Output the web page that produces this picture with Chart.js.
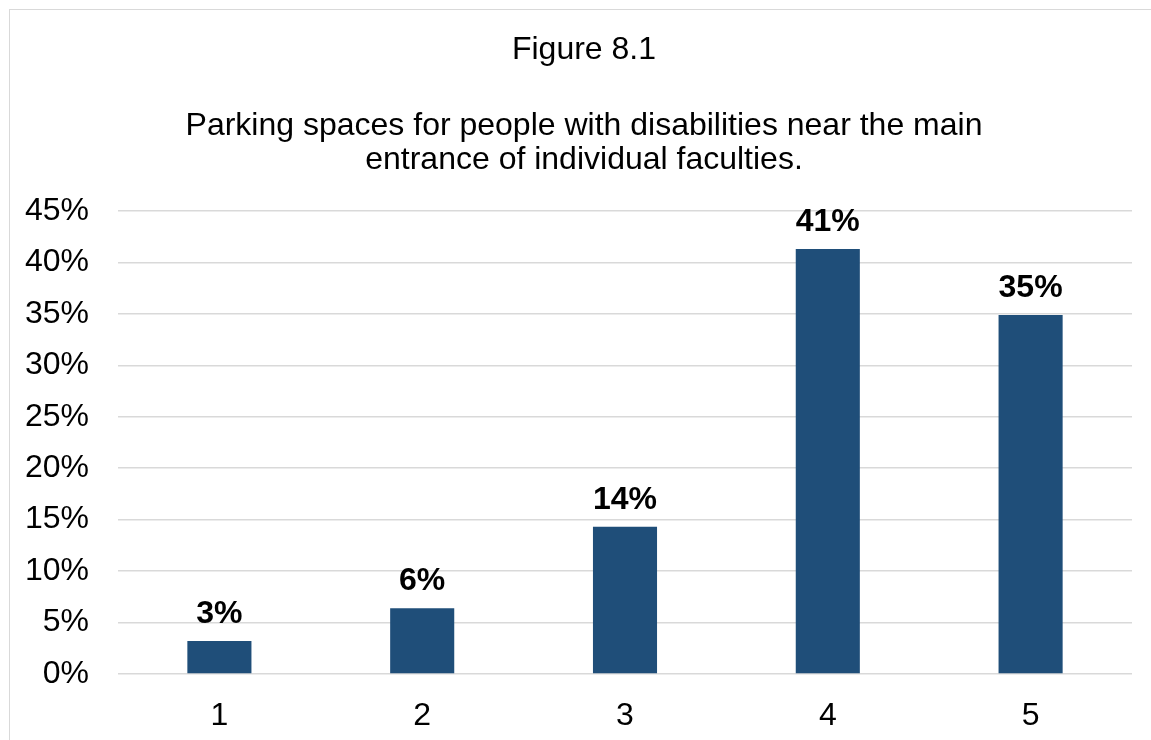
<!DOCTYPE html>
<html>
<head>
<meta charset="utf-8">
<script src="https://cdn.jsdelivr.net/npm/chart.js"></script>
<style>
  html, body { margin: 0; padding: 0; background: #fff; overflow: hidden; }
  #frame {
    position: absolute; left: 9px; top: 9px;
    width: 1160px; height: 760px;
    border: 1px solid #d9d9d9; box-sizing: border-box;
  }
  #wrap { position: absolute; left: 1px; top: 1px; width: 1146px; height: 729px; }
</style>
</head>
<body>
<div id="frame"><div id="wrap"><canvas id="chart"></canvas></div></div>
<script>
const categories = ["1", "2", "3", "4", "5"]
const shares = [3.2, 6.4, 14.3, 41.3, 34.9]
const labelText = ["3%", "6%", "14%", "41%", "35%"]
const yTicks = [0, 5, 10, 15, 20, 25, 30, 35, 40, 45]

const FONT = "'Liberation Sans', Arial, sans-serif"

// draw the bold value labels above each bar
const barLabels = {
  id: "barLabels",
  afterDatasetsDraw(chart) {
    const ctx = chart.ctx
    const meta = chart.getDatasetMeta(0)
    ctx.save()
    ctx.font = "bold 32px " + FONT
    ctx.fillStyle = "#000"
    ctx.textAlign = "center"
    ctx.textBaseline = "alphabetic"
    meta.data.forEach((bar, i) => {
      ctx.fillText(labelText[i], bar.x, bar.y - 18)
    })
    ctx.restore()
  },
}

new Chart(document.getElementById("chart"), {
  type: "bar",
  data: {
    labels: categories,
    datasets: [
      {
        data: shares,
        backgroundColor: "#1f4e79",
        categoryPercentage: 1,
        barPercentage: 0.316,
      },
    ],
  },
  plugins: [barLabels],
  options: {
    responsive: true,
    maintainAspectRatio: false,
    animation: false,
    layout: { padding: 0 },
    plugins: {
      legend: { display: false },
      tooltip: { enabled: false },
      title: {
        display: true,
        text: "Figure 8.1",
        color: "#000",
        font: { family: FONT, size: 32, weight: "normal", lineHeight: 1.2 },
        padding: { top: 20, bottom: 20 },
      },
      subtitle: {
        display: true,
        text: [
          "Parking spaces for people with disabilities near the main",
          "entrance of individual faculties.",
        ],
        color: "#000",
        font: { family: FONT, size: 32, lineHeight: 1.0625 },
        padding: { top: 19.6, bottom: 34 },
      },
    },
    scales: {
      x: {
        grid: { display: false, drawTicks: false },
        border: { display: false },
        ticks: { color: "#000", font: { family: FONT, size: 32 }, padding: 23 },
        afterFit: (scale) => { scale.height = 66 },
      },
      y: {
        min: 0,
        max: 45,
        grid: { color: "#d9d9d9", lineWidth: 1.5, drawTicks: false },
        border: { display: false },
        afterBuildTicks: (scale) => { scale.ticks = yTicks.map((v) => ({ value: v })) },
        afterFit: (scale) => { scale.width = 107 },
        ticks: {
          color: "#000",
          padding: 29,
          font: { family: FONT, size: 32 },
          callback: (v) => v + "%",
        },
      },
      // empty right-hand margin so the titles stay centred on the whole frame
      yRight: {
        position: "right",
        grid: { display: false },
        border: { display: false },
        ticks: { display: false },
        afterFit: (scale) => { scale.width = 25 },
      },
    },
  },
})
</script>
</body>
</html>
